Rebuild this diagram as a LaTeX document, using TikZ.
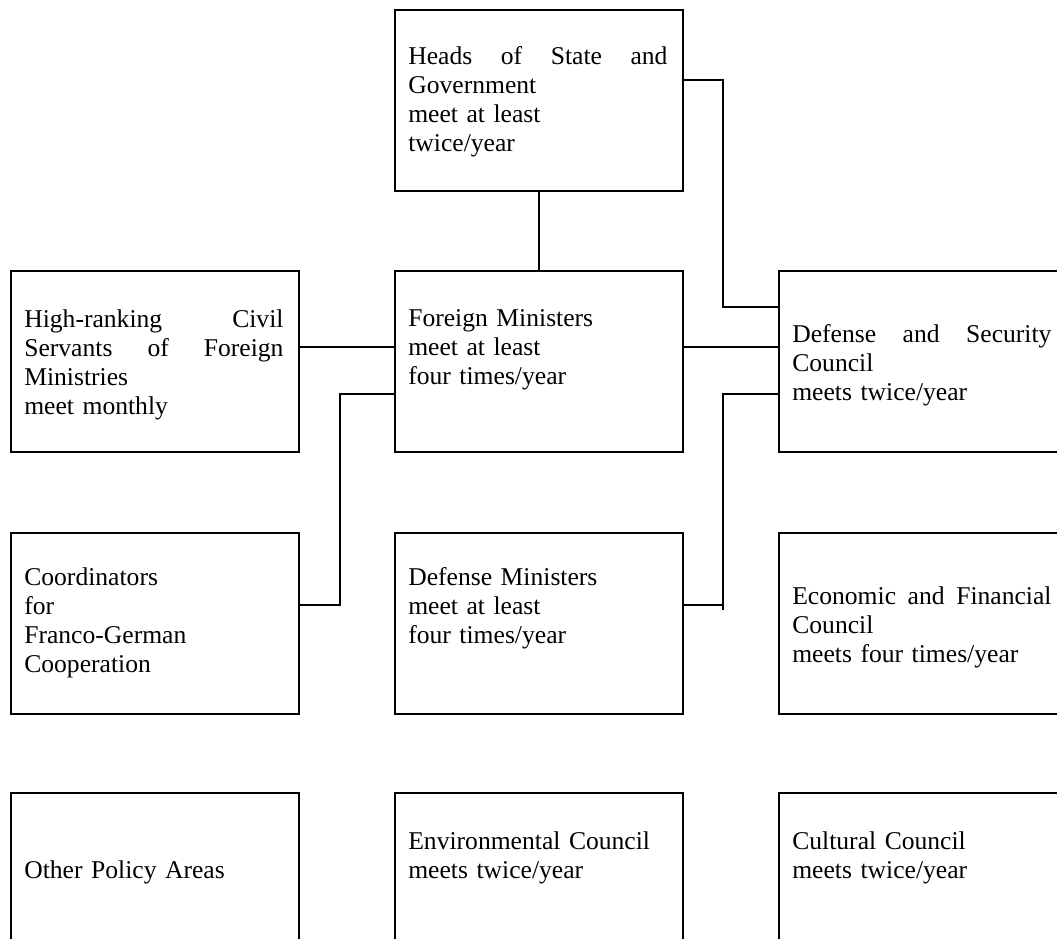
\documentclass[tikz,border=0pt]{standalone}
\usepackage{fontspec}
\setmainfont{Liberation Serif}
\usetikzlibrary{positioning}
\tikzset{
  council/.style={draw, line width=1.5pt, anchor=north west, inner sep=0pt,
    minimum width=180pt, minimum height=113pt},
  blurb/.style={anchor=north west, inner sep=0pt, align=left, text width=162pt,
    font=\fontsize{16pt}{18.25pt}\selectfont},
  link/.style={line width=1.1pt}
}

\begin{document}
\begin{tikzpicture}[x=0.625pt, y=-0.625pt, line join=miter]
  \useasboundingbox (0,0) rectangle (1057,939);

  % ============ boxes ============
  \node[council] (heads)    at (394,9)   {};
  \node[council] (civil)    at (10,270)  {};
  \node[council] (foreign)  at (394,270) {};
  \node[council] (security) at (778,270) {};
  \node[council] (coord)    at (10,532)  {};
  \node[council] (defmin)   at (394,532) {};
  \node[council] (econ)     at (778,532) {};
  \node[council] (other)    at (10,792)  {};
  \node[council] (environ)  at (394,792) {};
  \node[council] (culture)  at (778,792) {};

  % ============ texts ============
  \node[blurb] (headsT) at ([shift={(14,37)}]heads.north west)
    {Heads\hfill of\hfill State\hfill and\\Government\\meet at least\\twice/year};
  \node[blurb] (civilT) at ([shift={(14,39)}]civil.north west)
    {High-ranking\hfill Civil\\Servants\hfill of\hfill Foreign\\Ministries\\meet monthly};
  \node[blurb] (foreignT) at ([shift={(14,39)}]foreign.north west)
    {Foreign Ministers\\meet at least\\four times/year};
  \node[blurb] (securityT) at ([shift={(14,54)}]security.north west)
    {Defense\hfill and\hfill Security\\Council\\meets twice/year};
  \node[blurb] (coordT) at ([shift={(14,35)}]coord.north west)
    {Coordinators\\for\\Franco-German\\Cooperation};
  \node[blurb] (defminT) at ([shift={(14,35)}]defmin.north west)
    {Defense Ministers\\meet at least\\four times/year};
  \node[blurb] (econT) at ([shift={(14,54)}]econ.north west)
    {Economic\hfill and\hfill Financial\\Council\\meets four times/year};
  \node[blurb] (otherT) at ([shift={(14,68)}]other.north west)
    {Other Policy Areas};
  \node[blurb] (environT) at ([shift={(14,39)}]environ.north west)
    {Environmental Council\\meets twice/year};
  \node[blurb] (cultureT) at ([shift={(14,39)}]culture.north west)
    {Cultural Council\\meets twice/year};

  % ============ connectors ============
  \coordinate (hsbend) at (723,80);
  \coordinate (secin)  at (0,307);
  \coordinate (midrow) at (0,347);
  \coordinate (lowin)  at (0,394);
  \coordinate (lowrow) at (0,605);
  \coordinate (cbend)  at (340,0);
  \coordinate (dtick)  at (723,610);

  \draw[link] (heads.south) -- (foreign.north);
  \draw[link] (heads.east |- hsbend) -- (hsbend) |- (security.west |- secin);
  \draw[link] (civil.east |- midrow) -- (foreign.west |- midrow);
  \draw[link] (foreign.east |- midrow) -- (security.west |- midrow);
  \draw[link] (coord.east |- lowrow) -- (cbend |- lowrow) |- (foreign.west |- lowin);
  \draw[link] (defmin.east |- lowrow) -- (dtick |- lowrow);
  \draw[link] (security.west |- lowin) -| (dtick);
\end{tikzpicture}
\end{document}
